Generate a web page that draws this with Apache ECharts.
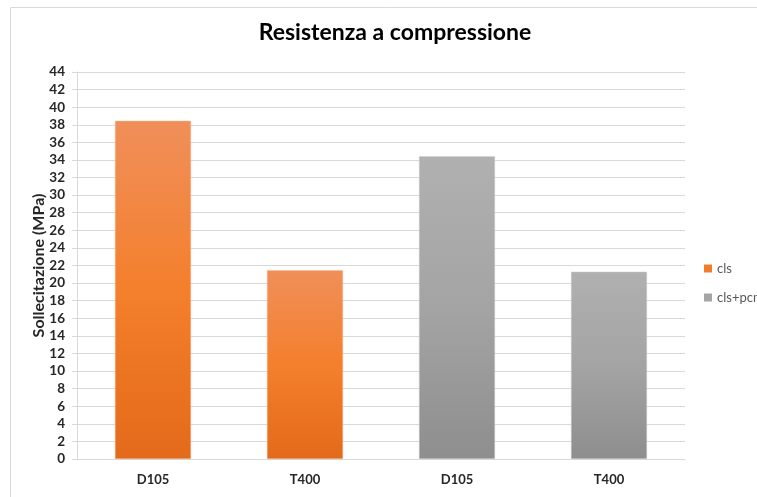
<!DOCTYPE html>
<html>
<head>
<meta charset="utf-8">
<script src="https://cdn.jsdelivr.net/npm/echarts@6/dist/echarts.min.js"></script>
<style>
  html, body { margin: 0; padding: 0; background: #fff; }
  #chart { width: 757px; height: 497px; }
</style>
</head>
<body>
<div id="chart"></div>
<script>
// categories on the x axis
const categories = ['D105', 'T400', 'D105', 'T400']
// series values (MPa)
const clsValues = [38.45, 21.47, null, null]
const pcmValues = [null, null, 34.41, 21.3]
const seriesNames = ['cls', 'cls+pcm']

const chart = echarts.init(document.getElementById('chart'))

const orangeFill = new echarts.graphic.LinearGradient(0, 0, 0, 1, [
  { offset: 0, color: '#f08f5a' },
  { offset: 0.5, color: '#f47f2c' },
  { offset: 1, color: '#e36a1a' }
])
const grayFill = new echarts.graphic.LinearGradient(0, 0, 0, 1, [
  { offset: 0, color: '#b0b0b0' },
  { offset: 0.5, color: '#a4a4a4' },
  { offset: 1, color: '#8e8e8e' }
])

const font = 'Lato, "Open Sans", sans-serif'

const option = {
  animation: false,
  textStyle: { fontFamily: font },
  // cornice del grafico
  graphic: [{
    type: 'rect',
    shape: { x: 10.5, y: 7.5, width: 800, height: 600 },
    style: { fill: 'none', stroke: '#d9d9d9', lineWidth: 1 },
    silent: true
  }],
  title: {
    text: 'Resistenza a compressione',
    left: 390,
    textAlign: 'center',
    top: 16,
    textStyle: { fontSize: 23, fontWeight: 'bold', color: '#000', fontFamily: font }
  },
  legend: {
    orient: 'vertical',
    left: 699,
    top: 257,
    itemWidth: 8,
    itemHeight: 8,
    itemGap: 16,
    icon: 'rect',
    textStyle: { fontSize: 13, color: '#595959', fontFamily: font },
    data: [
      { name: seriesNames[0], itemStyle: { color: '#f07c2c', borderWidth: 0 } },
      { name: seriesNames[1], itemStyle: { color: '#a5a5a5', borderWidth: 0 } }
    ]
  },
  grid: { left: 77, right: 72, top: 72, bottom: 38 },
  xAxis: {
    type: 'category',
    data: categories,
    axisLine: { lineStyle: { color: '#d9d9d9' } },
    axisTick: { show: false },
    axisLabel: { fontSize: 13, fontWeight: 'bold', color: '#262626', margin: 14, fontFamily: font }
  },
  yAxis: {
    type: 'value',
    min: 0,
    max: 44,
    interval: 2,
    name: 'Sollecitazione (MPa)',
    nameLocation: 'middle',
    nameRotate: 90,
    nameGap: 30,
    nameMoveOverlap: false,
    nameTextStyle: { fontSize: 16, fontWeight: 'bold', color: '#262626', fontFamily: font },
    axisLine: { show: true, lineStyle: { color: '#d9d9d9' } },
    axisTick: { show: true, length: 5, lineStyle: { color: '#d9d9d9' } },
    axisLabel: { fontSize: 13.5, fontWeight: 'bold', color: '#262626', margin: 12, fontFamily: font },
    splitLine: { lineStyle: { color: '#d9d9d9' } }
  },
  series: [
    {
      name: seriesNames[0],
      type: 'bar',
      stack: 'all',
      barWidth: '50%',
      data: clsValues,
      itemStyle: { color: orangeFill, borderColor: '#f7b48a', borderWidth: 0.5 }
    },
    {
      name: seriesNames[1],
      type: 'bar',
      stack: 'all',
      barWidth: '50%',
      data: pcmValues,
      itemStyle: { color: grayFill, borderColor: '#cfcfcf', borderWidth: 0.5 }
    }
  ]
}

chart.setOption(option)
</script>
</body>
</html>
